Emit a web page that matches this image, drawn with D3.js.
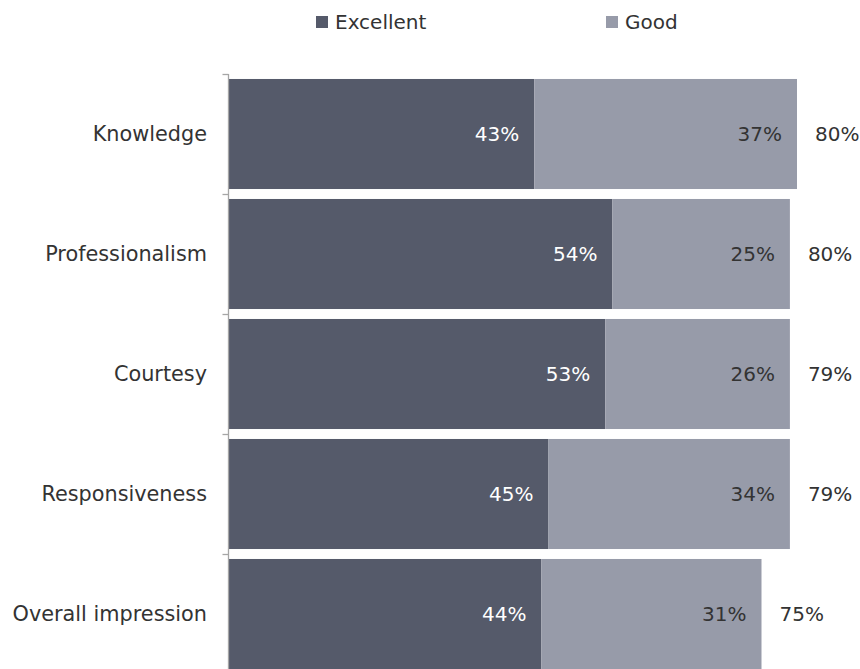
<!DOCTYPE html>
<html>
<head>
<meta charset="utf-8">
<script src="https://cdn.jsdelivr.net/npm/d3@7"></script>
<style>
  html, body { margin: 0; padding: 0; background: #fff; }
  svg { display: block; font-family: "DejaVu Sans", Verdana, sans-serif; }
</style>
</head>
<body>
<svg id="chart" width="860" height="669"></svg>
<script>
// Survey ratings (percent of respondents)
const categories = ["Knowledge", "Professionalism", "Courtesy", "Responsiveness", "Overall impression"];
const excellent = [43, 54, 53, 45, 44];
const good = [37, 25, 26, 34, 31];
const totals = [80, 80, 79, 79, 75];
const seriesNames = ["Excellent", "Good"];

const colors = { Excellent: "#555a6a", Good: "#979ba9" };
const textColor = "#333333";

const svg = d3.select("#chart");

const x = d3.scaleLinear().domain([0, 100]).range([229, 939]);
const y = d3.scaleBand()
  .domain(categories)
  .range([74, 674])
  .paddingInner(0.083)
  .paddingOuter(0.0415);

const rows = categories.map((c, i) => ({
  cat: c, excellent: excellent[i], good: good[i], total: totals[i]
}));

// Stacked segments
const g = svg.append("g");
rows.forEach(r => {
  const segs = [
    { key: "Excellent", x0: 0, x1: r.excellent, v: r.excellent, fill: "#fff" },
    { key: "Good", x0: r.excellent, x1: r.excellent + r.good, v: r.good, fill: textColor }
  ];
  segs.forEach(s => {
    g.append("rect")
      .attr("x", x(s.x0))
      .attr("y", y(r.cat))
      .attr("width", x(s.x1) - x(s.x0))
      .attr("height", y.bandwidth())
      .attr("fill", colors[s.key]);
    g.append("text")
      .attr("x", x(s.x1) - 15)
      .attr("y", y(r.cat) + y.bandwidth() / 2)
      .attr("dy", "0.35em")
      .attr("text-anchor", "end")
      .attr("font-size", 20)
      .attr("fill", s.fill)
      .text(s.v + "%");
  });
  // Total label to the right of the bar
  g.append("text")
    .attr("x", x(r.excellent + r.good) + 18)
    .attr("y", y(r.cat) + y.bandwidth() / 2)
    .attr("dy", "0.35em")
    .attr("font-size", 20)
    .attr("fill", textColor)
    .text(r.total + "%");
});

// Vertical category axis with ticks between bands
const axisX = 228.5;
const ax = svg.append("g").attr("stroke", "#a6a6a6").attr("stroke-width", 1.3);
ax.append("line").attr("x1", axisX).attr("x2", axisX).attr("y1", y.range()[0]).attr("y2", y.range()[1]);
categories.forEach(c => {
  const ty = Math.round(y(c) - y.step() * y.paddingOuter()) + 0.5;
  ax.append("line").attr("x1", axisX - 6).attr("x2", axisX).attr("y1", ty).attr("y2", ty);
});

svg.append("g").selectAll("text")
  .data(categories)
  .join("text")
  .attr("x", 207)
  .attr("y", d => y(d) + y.bandwidth() / 2)
  .attr("dy", "0.35em")
  .attr("text-anchor", "end")
  .attr("font-size", 20.8)
  .attr("fill", textColor)
  .text(d => d);

// Legend
const legendX = { Excellent: 316, Good: 606 };
const lg = svg.append("g");
seriesNames.forEach(n => {
  lg.append("rect").attr("x", legendX[n]).attr("y", 16).attr("width", 12).attr("height", 12).attr("fill", colors[n]);
  lg.append("text")
    .attr("x", legendX[n] + 19)
    .attr("y", 22)
    .attr("dy", "0.35em")
    .attr("font-size", 20)
    .attr("fill", textColor)
    .text(n);
});
</script>
</body>
</html>
